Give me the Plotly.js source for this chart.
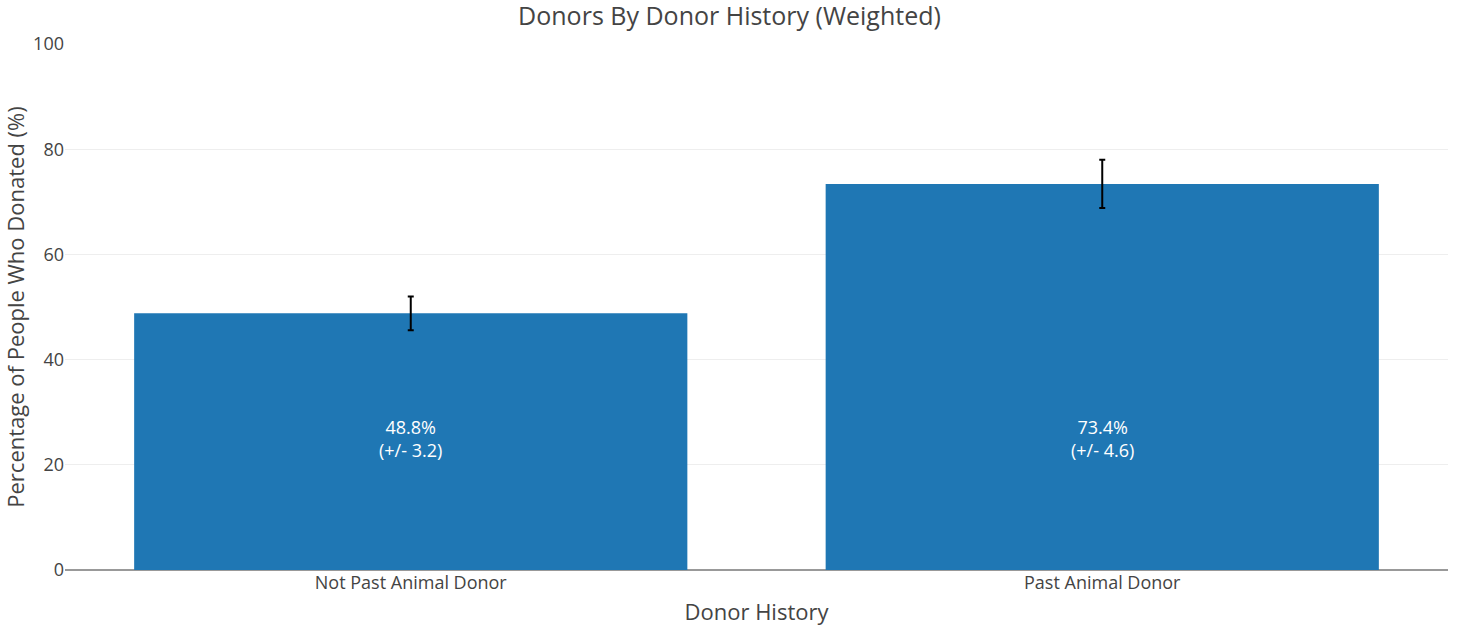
<!DOCTYPE html>
<html>
<head>
<meta charset="utf-8">
<script src="https://cdn.plot.ly/plotly-3.0.1.min.js"></script>
<style>
	html, body { margin: 0; padding: 0; background: white; }
	#chart { width: 1459px; height: 626px; }
</style>
</head>
<body>
<div id="chart"></div>
<script>
const categories = ["Not Past Animal Donor", "Past Animal Donor"]
const percentDonated = [48.8, 73.4]
const errorMargin = [3.2, 4.6]
const yTicks = [0, 20, 40, 60, 80, 100]
const labelHeight = 25 // labels sit at the same height in both bars

const barLabels = percentDonated.map((v, i) => v.toFixed(1) + "%<br>(+/- " + errorMargin[i].toFixed(1) + ")")

var trace = {
	type: "bar",
	x: categories,
	y: percentDonated,
	hoverinfo: "none",
	marker: { color: "#1f77b4" },
	error_y: {
		type: "data",
		array: errorMargin,
		visible: true,
		color: "black",
		thickness: 2,
		width: 3
	}
}

var annotations = categories.map((c, i) => ({
	x: c,
	y: labelHeight,
	xref: "x",
	yref: "y",
	text: barLabels[i],
	showarrow: false,
	xanchor: "center",
	yanchor: "middle",
	font: { color: "white", size: 18 }
}))

var layout = {
	width: 1459,
	height: 626,
	margin: { l: 65, r: 11, t: 44, b: 56, pad: 0 },
	paper_bgcolor: "white",
	plot_bgcolor: "white",
	font: { family: "Open Sans, sans-serif", color: "#444" },
	title: {
		text: "Donors By Donor History (Weighted)",
		font: { size: 25 },
		x: 0.5,
		xanchor: "center",
		y: 0.974,
		yanchor: "middle"
	},
	xaxis: {
		title: { text: "Donor History", font: { size: 22 }, standoff: 12 },
		tickfont: { size: 18 },
		showline: false
	},
	yaxis: {
		range: [0, 100],
		tickvals: yTicks,
		tickfont: { size: 18 },
		gridcolor: "#eee",
		zeroline: true,
		zerolinecolor: "#999",
		zerolinewidth: 2,
		title: { text: "Percentage of People Who Donated (%)", font: { size: 22 }, standoff: 10 }
	},
	annotations: annotations,
	showlegend: false,
	bargap: 0.2
}

Plotly.newPlot("chart", [trace], layout, { displayModeBar: false, staticPlot: true })
</script>
</body>
</html>
